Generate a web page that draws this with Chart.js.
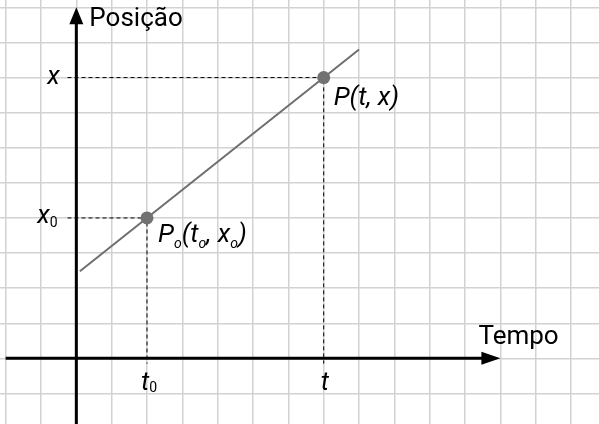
<!DOCTYPE html>
<html>
<head>
<meta charset="utf-8">
<script src="https://cdn.jsdelivr.net/npm/chart.js@4/dist/chart.umd.min.js"></script>
<style>
  body { margin: 0; background: #fff; }
  canvas { display: block; }
</style>
</head>
<body>
<canvas id="chart" width="599" height="424"></canvas>
<script>
// Values (one grid square = 1 unit)
const tMarks = [2, 7];          // t0, t
const xMarks = [4, 8];          // x0, x
const lineT = [0.1, 8];         // ends of the grey line
const lineX = [2.48, 8.8];
const axisT = [-2, 11.6];       // horizontal axis (arrow tip at 12)
const axisX = [-2, 9.6];        // vertical axis (arrow tip at 10)
const viewT = [-2.16, 14.79];
const viewX = [-1.87, 10.21];

const FONT = 'Roboto, "Liberation Sans", sans-serif';

// dashed guides from the vertical axis to each point and down to the time axis
function guideData(i) {
    return [
        { x: -0.25, y: xMarks[i] },
        { x: tMarks[i], y: xMarks[i] },
        { x: tMarks[i], y: -0.15 }
    ];
}

function integerTicks(scale) {
    const ticks = [];
    for (let v = Math.ceil(scale.min); v <= Math.floor(scale.max); v++) ticks.push({ value: v });
    scale.ticks = ticks;
}

function drawRuns(ctx, x, y, runs) {
    runs.forEach(r => {
        ctx.font = (r.italic ? 'italic ' : '') + r.size + 'px ' + FONT;
        ctx.fillText(r.text, x, y + (r.dy || 0));
        x += ctx.measureText(r.text).width;
    });
}

const labelsPlugin = {
    id: 'labels',
    afterDatasetsDraw(chart) {
        const ctx = chart.ctx;
        const sx = chart.scales.x, sy = chart.scales.y;
        const ox = sx.getPixelForValue(0), oy = sy.getPixelForValue(0);
        ctx.save();
        ctx.fillStyle = '#000';

        // arrow heads
        const tx = sx.getPixelForValue(12);
        ctx.beginPath();
        ctx.moveTo(tx, oy);
        ctx.lineTo(tx - 19, oy - 6.5);
        ctx.lineTo(tx - 19, oy + 6.5);
        ctx.closePath();
        ctx.fill();
        const ty = sy.getPixelForValue(10);
        ctx.beginPath();
        ctx.moveTo(ox, ty);
        ctx.lineTo(ox - 7, ty + 17);
        ctx.lineTo(ox + 7, ty + 17);
        ctx.closePath();
        ctx.fill();

        ctx.textBaseline = 'alphabetic';
        ctx.textAlign = 'left';
        drawRuns(ctx, ox + 13, ty + 19, [{ text: 'Posição', size: 26 }]);
        drawRuns(ctx, tx - 22, oy - 14, [{ text: 'Tempo', size: 26 }]);

        // value labels on the axes
        const p0x = sx.getPixelForValue(tMarks[0]), p0y = sy.getPixelForValue(xMarks[0]);
        const p1x = sx.getPixelForValue(tMarks[1]), p1y = sy.getPixelForValue(xMarks[1]);
        drawRuns(ctx, ox - 29, p1y + 6, [{ text: 'x', size: 26, italic: true }]);
        drawRuns(ctx, ox - 39, p0y + 5, [
            { text: 'x', size: 26, italic: true },
            { text: '0', size: 14, dy: 4 }
        ]);
        drawRuns(ctx, p0x - 6, oy + 32, [
            { text: 't', size: 26, italic: true },
            { text: '0', size: 14, dy: 2 }
        ]);
        drawRuns(ctx, p1x - 3, oy + 32, [{ text: 't', size: 26, italic: true }]);

        // point labels
        drawRuns(ctx, p1x + 10, p1y + 27, [{ text: 'P(t, x)', size: 26, italic: true }]);
        const sub = { text: 'o', size: 14, italic: true, dy: 6 };
        drawRuns(ctx, p0x + 11, p0y + 24, [
            { text: 'P', size: 26, italic: true }, sub,
            { text: '(t', size: 26, italic: true }, sub,
            { text: ', x', size: 26, italic: true }, sub,
            { text: ')', size: 26, italic: true }
        ]);
        ctx.restore();
    }
};

const gridColor = '#d2d2d2';

new Chart(document.getElementById('chart'), {
    type: 'scatter',
    data: {
        datasets: [
            {
                data: tMarks.map((t, i) => ({ x: t, y: xMarks[i] })),
                pointRadius: 6.5,
                pointBackgroundColor: '#727272',
                pointBorderWidth: 0,
                order: 0
            },
            {
                data: lineT.map((t, i) => ({ x: t, y: lineX[i] })),
                showLine: true,
                borderColor: '#6e6e6e',
                borderWidth: 2,
                pointRadius: 0,
                order: 1
            },
            {
                data: guideData(0),
                showLine: true,
                borderColor: '#000',
                borderWidth: 1,
                borderDash: [4, 3],
                pointRadius: 0,
                order: 2
            },
            {
                data: guideData(1),
                showLine: true,
                borderColor: '#000',
                borderWidth: 1,
                borderDash: [4, 3],
                pointRadius: 0,
                order: 2
            },
            {
                data: axisT.map(t => ({ x: t, y: 0 })),
                showLine: true,
                borderColor: '#000',
                borderWidth: 3,
                pointRadius: 0,
                order: 3
            },
            {
                data: axisX.map(v => ({ x: 0, y: v })),
                showLine: true,
                borderColor: '#000',
                borderWidth: 3,
                pointRadius: 0,
                order: 3
            }
        ]
    },
    options: {
        responsive: false,
        animation: false,
        layout: { padding: 0, autoPadding: false },
        plugins: { legend: { display: false }, tooltip: { enabled: false } },
        scales: {
            x: {
                type: 'linear',
                min: viewT[0],
                max: viewT[1],
                afterBuildTicks: integerTicks,
                ticks: { display: false },
                grid: { color: gridColor, lineWidth: 1.5, drawTicks: false },
                border: { display: false }
            },
            y: {
                type: 'linear',
                min: viewX[0],
                max: viewX[1],
                afterBuildTicks: integerTicks,
                ticks: { display: false },
                grid: { color: gridColor, lineWidth: 1.5, drawTicks: false },
                border: { display: false }
            }
        }
    },
    plugins: [labelsPlugin]
});
</script>
</body>
</html>
